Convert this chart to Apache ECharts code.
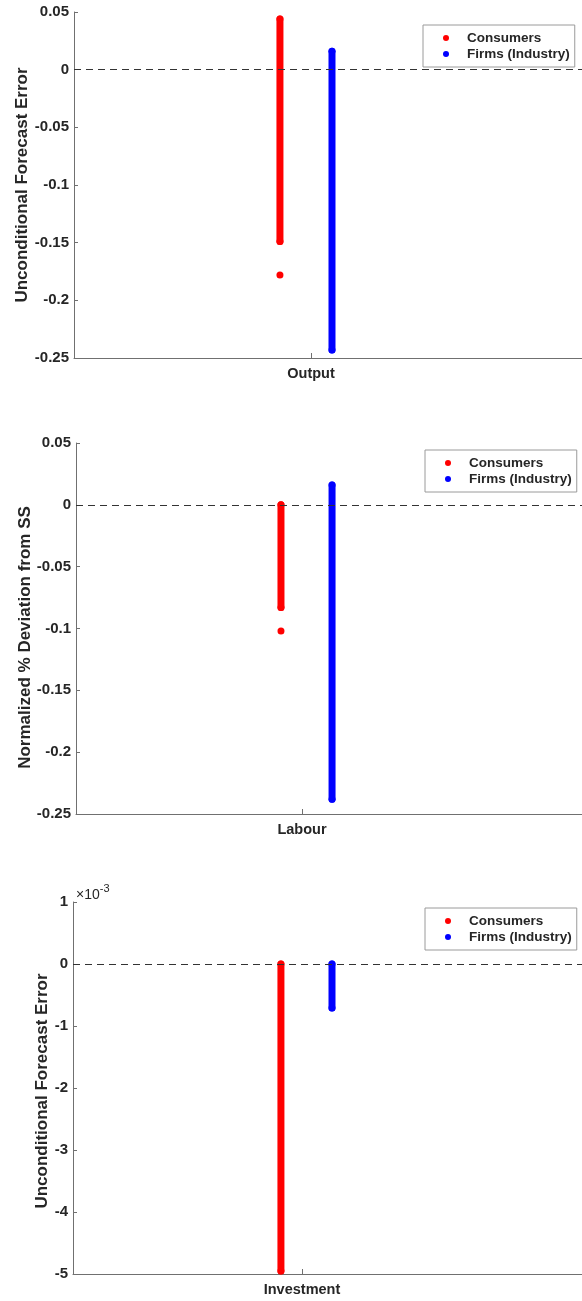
<!DOCTYPE html>
<html>
<head>
<meta charset="utf-8">
<script src="https://cdn.jsdelivr.net/npm/echarts@6/dist/echarts.min.js"></script>
<style>
html,body{margin:0;padding:0;background:#fff;}
#c{width:582px;height:1301px;}
</style>
</head>
<body>
<div id="c"></div>
<script>
// ---------- data ----------
const categories = ['Output', 'Labour', 'Investment'];
const yLabels = ['Unconditional Forecast Error', 'Normalized % Deviation from SS', 'Unconditional Forecast Error'];
// continuous strip of simulated values: [top, bottom]
const consumersRange = [[0.044, -0.149], [0.0, -0.083], [0.0, -0.00495]];
const firmsRange     = [[0.016, -0.243], [0.016, -0.238], [0.0, -0.00071]];
// isolated points below the strips
const consumersOutliers = [[-0.178], [-0.102], []];
const firmsOutliers     = [[], [], []];
// y-axis settings per panel
const yMin = [-0.25, -0.25, -0.005];
const yMax = [0.05, 0.05, 0.001];
const yStep = [0.05, 0.05, 0.001];

// ---------- layout (not data) ----------
const grids = [
  {left: 74, top: 12, width: 508, height: 346},
  {left: 76, top: 443, width: 506, height: 371},
  {left: 73, top: 902, width: 509, height: 372}
];
const xMax = [2.1435, 2.239, 2.2227];       // category tick sits at x = 1
const redX = [0.869, 0.907, 0.908];
const blueX = [1.0886, 1.133, 1.131];
const nameGap = [43, 42, 22];
const namePad = [[0,0,0,0], [0,18,0,0], [0,6,0,0]];
const legendPos = [{left: 423, top: 25}, {left: 425, top: 450}, {left: 425, top: 908}];

const FONT = '"Liberation Sans", Arial, sans-serif';
const TXT = '#262626';
const AX = '#707070';
const RED = '#ff0000';
const BLUE = '#0000ff';

const option = {
  animation: false,
  backgroundColor: '#fff',
  grid: grids.map(g => Object.assign({containLabel: false}, g)),
  xAxis: [], yAxis: [], series: [], legend: [],
  graphic: [{
    type: 'text', left: 76, top: 883,
    style: {
      text: '{a|×10}{b|-3}',
      rich: {
        a: {fontSize: 14, fontFamily: FONT, fill: TXT, lineHeight: 19, verticalAlign: 'bottom'},
        b: {fontSize: 11, fontFamily: FONT, fill: TXT, lineHeight: 19, verticalAlign: 'top'}
      }
    }
  }]
};

for (let i = 0; i < 3; i++) {
  option.xAxis.push({
    type: 'value', gridIndex: i, min: 0, max: xMax[i],
    axisLine: {show: true, onZero: false, lineStyle: {color: AX, width: 1}},
    axisTick: {show: true, inside: true, length: 5, customValues: [1], lineStyle: {color: AX}},
    axisLabel: {show: true, customValues: [1], formatter: () => categories[i],
      color: TXT, fontWeight: 'bold', fontSize: 14.5, fontFamily: FONT, margin: 8},
    splitLine: {show: false}
  });
  option.yAxis.push({
    type: 'value', gridIndex: i, min: yMin[i], max: yMax[i], interval: yStep[i],
    name: yLabels[i], nameLocation: 'middle', nameRotate: 90, nameGap: nameGap[i],
    nameMoveOverlap: false,
    nameTextStyle: {color: TXT, fontWeight: 'bold', fontSize: 17, fontFamily: FONT, padding: namePad[i]},
    axisLine: {show: true, onZero: false, lineStyle: {color: AX, width: 1}},
    axisTick: {show: true, inside: true, length: 4, lineStyle: {color: AX}},
    axisLabel: {
      color: TXT, fontWeight: 'bold', fontSize: 15, fontFamily: FONT, margin: 5,
      formatter: i === 2 ? (v => String(Math.round(v * 1000))) : (v => String(Math.round(v * 100) / 100))
    },
    splitLine: {show: false}
  });
  // strips
  option.series.push({
    type: 'line', name: 'Consumers strip', xAxisIndex: i, yAxisIndex: i, symbol: 'none',
    data: consumersRange[i].map(v => [redX[i], v]),
    lineStyle: {color: RED, width: 7, cap: 'round'}, z: 2, silent: true
  });
  option.series.push({
    type: 'line', name: 'Firms strip', xAxisIndex: i, yAxisIndex: i, symbol: 'none',
    data: firmsRange[i].map(v => [blueX[i], v]),
    lineStyle: {color: BLUE, width: 7, cap: 'round'}, z: 2, silent: true
  });
  // points
  option.series.push({
    type: 'scatter', name: 'Consumers', xAxisIndex: i, yAxisIndex: i,
    symbolSize: 7, itemStyle: {color: RED, opacity: 1},
    data: consumersRange[i].concat(consumersOutliers[i]).map(v => [redX[i], v]), z: 3,
    markLine: {
      silent: true, symbol: 'none', label: {show: false}, z: 5,
      lineStyle: {color: '#333', width: 1, type: [7, 5]},
      data: [{yAxis: 0}]
    }
  });
  option.series.push({
    type: 'scatter', name: 'Firms (Industry)', xAxisIndex: i, yAxisIndex: i,
    symbolSize: 7, itemStyle: {color: BLUE, opacity: 1},
    data: firmsRange[i].concat(firmsOutliers[i]).map(v => [blueX[i], v]), z: 3
  });
  option.legend.push(Object.assign({
    orient: 'vertical',
    data: [{name: 'Consumers', icon: 'circle'}, {name: 'Firms (Industry)', icon: 'circle'}],
    itemWidth: 6, itemHeight: 6, itemGap: 2,
    padding: [6, 5, 6, 20],
    backgroundColor: '#fff', borderColor: '#9a9a9a', borderWidth: 1, borderRadius: 0,
    selectedMode: false,
    itemStyle: {opacity: 1},
    textStyle: {color: TXT, fontWeight: 'bold', fontSize: 13.5, fontFamily: FONT, lineHeight: 14, padding: [0, 0, 0, 13]}
  }, legendPos[i]));
}

const chart = echarts.init(document.getElementById('c'), null, {renderer: 'canvas'});
chart.setOption(option);
</script>
</body>
</html>
